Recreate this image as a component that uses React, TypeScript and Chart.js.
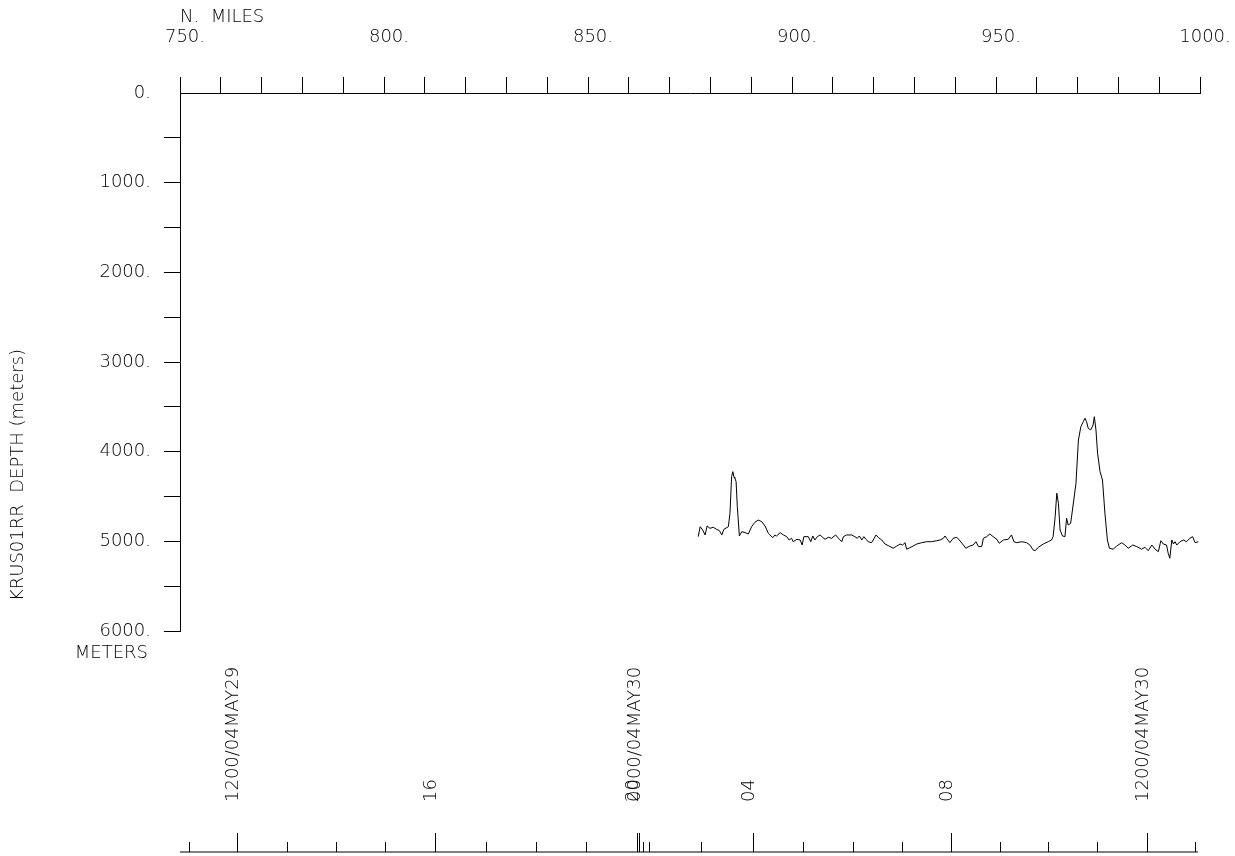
import React, { useEffect, useRef } from 'react';
import { Chart, registerables } from 'chart.js';

Chart.register(...registerables);

// Distance along track (nautical miles) and bottom depth (meters)
const MILES = [
  877.0, 877.5, 878.1, 878.7, 879.2, 879.9, 880.7, 881.5, 882.2, 882.8,
  883.3, 884.4, 884.8, 885.2, 885.5, 885.8, 886.0, 886.3, 886.6, 887.1,
  887.7, 888.5, 889.3, 890.1, 890.9, 891.7, 892.6, 893.4, 894.2, 894.6,
  895.3, 895.8, 896.2, 897.1, 897.9, 898.7, 899.3, 899.9, 900.3, 901.2,
  902.0, 902.5, 902.9, 904.0, 904.6, 905.1, 905.6, 906.2, 906.9, 907.5,
  908.1, 908.9, 909.7, 910.7, 911.4, 912.2, 912.6, 913.4, 914.6, 915.4,
  916.0, 916.5, 917.1, 917.6, 918.1, 918.7, 919.5, 919.9, 920.6, 921.2,
  922.0, 922.8, 923.6, 924.8, 925.7, 926.5, 927.1, 927.7, 928.1, 928.9,
  929.7, 930.6, 931.8, 933.0, 934.2, 935.5, 936.3, 937.1, 937.5, 937.9,
  938.7, 939.5, 940.4, 941.0, 942.0, 942.6, 943.6, 944.4, 945.1, 945.7,
  946.5, 946.9, 947.7, 948.5, 949.3, 950.2, 950.8, 951.8, 953.0, 953.8,
  954.4, 955.1, 956.3, 957.5, 958.3, 959.1, 959.6, 960.4, 961.6, 962.8,
  963.6, 964.0, 964.5, 964.9, 965.3, 965.7, 966.3, 966.9, 967.3, 967.7,
  968.3, 968.9, 969.6, 970.2, 970.8, 971.4, 971.8, 972.2, 972.6, 973.2,
  973.8, 974.1, 974.5, 974.9, 975.5, 976.1, 976.7, 977.3, 977.8, 978.7,
  979.6, 980.8, 981.6, 982.4, 983.5, 984.5, 985.7, 986.5, 987.3, 988.2,
  989.0, 989.8, 990.4, 991.0, 991.8, 992.2, 992.6, 993.1, 993.5, 993.9,
  994.3, 995.1, 995.9, 996.7, 997.5, 998.2, 998.8, 999.6,
];

const DEPTHS = [
  4948, 4837, 4873, 4929, 4829, 4855, 4843, 4866, 4881, 4929,
  4866, 4837, 4687, 4279, 4223, 4286, 4297, 4335, 4614, 4940,
  4892, 4903, 4918, 4837, 4788, 4762, 4781, 4829, 4910, 4929,
  4959, 4929, 4940, 4903, 4929, 4948, 4985, 4966, 5004, 4977,
  4985, 5041, 4948, 4948, 5004, 4940, 4985, 4948, 4929, 4955,
  4977, 4955, 4966, 4929, 4966, 5004, 4948, 4929, 4929, 4948,
  4966, 4940, 4985, 4948, 4977, 5004, 5015, 4985, 4929, 4959,
  4985, 5030, 5048, 5077, 5052, 5030, 5041, 5015, 5088, 5071,
  5052, 5030, 5015, 5004, 5004, 4993, 4985, 4966, 4940, 4966,
  5015, 4966, 4955, 4985, 5041, 5077, 5052, 5041, 5004, 5059,
  5059, 4966, 4948, 4918, 4948, 4977, 5022, 4985, 4977, 4929,
  5004, 5015, 5004, 5015, 5041, 5096, 5104, 5066, 5030, 5004,
  4985, 4948, 4725, 4464, 4576, 4873, 4940, 4948, 4743, 4818,
  4799, 4595, 4353, 3870, 3721, 3666, 3628, 3666, 3739, 3758,
  3702, 3610, 3758, 4018, 4223, 4316, 4687, 4985, 5077, 5088,
  5052, 5015, 5041, 5077, 5041, 5059, 5088, 5066, 5104, 5041,
  5088, 5115, 4993, 5030, 5041, 5133, 5189, 4985, 5030, 5004,
  5041, 5004, 4985, 5004, 4966, 4948, 5015, 5004,
];

const X_MIN = 750;
const X_MAX = 1000;
const X_MINOR_STEP = 10;
const X_LABEL_STEP = 50;
const Y_MIN = 0;
const Y_MAX = 6000;
const Y_MINOR_STEP = 500;
const Y_LABEL_STEP = 1000;

const X_TITLE = 'N.  MILES';
const Y_TITLE = 'KRUS01RR  DEPTH (meters)';
const Y_UNIT = 'METERS';

// Hourly time ticks along the track, placed at the distance (miles) reached at that hour
const TIME_TICK_MILES = [
  752.1, 764.0, 776.2, 788.2, 800.3, 812.5, 824.9, 837.3, 849.5, 861.9,
  862.4, 863.5, 865.0, 877.6, 890.4, 902.7, 915.0, 926.9, 939.0, 951.0,
  962.8, 974.7, 986.9, 998.8,
];
const TIME_TICK_LABELS = [
  '', '1200/04MAY29', '', '', '', '16', '', '', '', '20',
  '0000/04MAY30', '', '', '', '04', '', '', '', '08', '',
  '', '', '1200/04MAY30', '',
];

const FONT_FAMILY = '"DejaVu Sans ExtraLight", "DejaVu Sans", "Liberation Sans", sans-serif';
const FONT_SIZE = 18;
const FONT_WEIGHT = '200';

const extrasPlugin = {
  id: 'extras',
  afterDraw(chart: any) {
    const ctx = chart.ctx as CanvasRenderingContext2D;
    const xs = chart.scales.x;
    const area = chart.chartArea;
    ctx.save();
    ctx.fillStyle = '#000';
    ctx.strokeStyle = '#000';
    ctx.lineWidth = 1;
    ctx.font = `${FONT_WEIGHT} ${FONT_SIZE}px ${FONT_FAMILY}`;

    // unit label under lowest depth tick
    ctx.textAlign = 'right';
    ctx.textBaseline = 'alphabetic';
    ctx.fillText(Y_UNIT, area.left - 32, area.bottom + 27);

    // y axis title
    ctx.save();
    ctx.translate(area.left - 157, area.top + 382);
    ctx.rotate(-Math.PI / 2);
    ctx.textAlign = 'center';
    ctx.fillText(Y_TITLE, 0, 0);
    ctx.restore();

    // bottom time axis
    const baseY = area.bottom + 221;
    ctx.beginPath();
    ctx.moveTo(xs.getPixelForValue(X_MIN), baseY);
    ctx.lineTo(xs.getPixelForValue(X_MAX) - 2, baseY);
    ctx.stroke();

    TIME_TICK_MILES.forEach((m, i) => {
      const px = xs.getPixelForValue(m);
      const label = TIME_TICK_LABELS[i];
      const len = label ? 19 : 10;
      const x = Math.round(px) + 0.5;
      ctx.beginPath();
      ctx.moveTo(x, baseY);
      ctx.lineTo(x, baseY - len);
      ctx.stroke();
      if (label) {
        ctx.save();
        ctx.translate(px + 1, baseY - 50);
        ctx.rotate(-Math.PI / 2);
        ctx.textAlign = 'left';
        ctx.textBaseline = 'alphabetic';
        ctx.fillText(label, 0, 0);
        ctx.restore();
      }
    });
    ctx.restore();
  },
};

export default function App() {
  const ref = useRef<HTMLCanvasElement | null>(null);

  useEffect(() => {
    if (!ref.current) return;
    Chart.defaults.font.family = FONT_FAMILY;
    Chart.defaults.font.size = FONT_SIZE;
    Chart.defaults.color = '#000';

    const points = MILES.map((m, i) => ({ x: m, y: DEPTHS[i] }));
    const font = { size: FONT_SIZE, family: FONT_FAMILY, weight: FONT_WEIGHT as any };

    const chart = new Chart(ref.current, {
      type: 'line',
      data: {
        datasets: [
          {
            data: points,
            borderColor: '#000',
            borderWidth: 1,
            pointRadius: 0,
            tension: 0,
            fill: false,
          },
        ],
      },
      options: {
        animation: false,
        responsive: false,
        devicePixelRatio: 1,
        layout: { padding: { left: 0, top: 0, right: 35, bottom: 225 } },
        plugins: {
          legend: { display: false },
          tooltip: { enabled: false },
        },
        scales: {
          x: {
            type: 'linear',
            position: 'top',
            min: X_MIN,
            max: X_MAX,
            afterFit: (s: any) => {
              s.height = 93;
              s.paddingLeft = 0;
              s.paddingRight = 0;
            },
            afterBuildTicks: (s: any) => {
              const t = [];
              for (let v = X_MIN; v <= X_MAX; v += X_MINOR_STEP) t.push({ value: v });
              s.ticks = t;
            },
            ticks: {
              autoSkip: false,
              maxRotation: 0,
              padding: 29,
              labelOffset: 5,
              color: '#000',
              font,
              callback: (v: any) => (Number(v) % X_LABEL_STEP === 0 ? `${v}.` : ''),
            },
            grid: {
              drawOnChartArea: false,
              drawTicks: true,
              tickLength: 16,
              tickColor: '#000',
              tickWidth: 1,
            },
            border: { display: true, color: '#000', width: 1 },
            title: {
              display: true,
              text: X_TITLE,
              align: 'start',
              color: '#000',
              font,
              padding: { top: 7, bottom: 0 },
            },
          },
          y: {
            type: 'linear',
            position: 'left',
            reverse: true,
            min: Y_MIN,
            max: Y_MAX,
            afterFit: (s: any) => {
              s.width = 180;
              s.paddingTop = 0;
              s.paddingBottom = 0;
            },
            afterBuildTicks: (s: any) => {
              const t = [];
              for (let v = Y_MIN; v <= Y_MAX; v += Y_MINOR_STEP) t.push({ value: v });
              s.ticks = t;
            },
            ticks: {
              autoSkip: false,
              padding: 13,
              color: '#000',
              font,
              callback: (v: any) => (Number(v) % Y_LABEL_STEP === 0 ? `${v}.` : ''),
            },
            grid: {
              drawOnChartArea: false,
              drawTicks: true,
              tickLength: 16,
              tickWidth: 1,
              tickColor: (c: any) => (c.tick && c.tick.value === 0 ? 'rgba(0,0,0,0)' : '#000'),
            },
            border: { display: true, color: '#000', width: 1 },
          },
        },
      },
      plugins: [extrasPlugin],
    });

    return () => chart.destroy();
  }, []);

  return (
    <div
      style={{
        position: 'fixed',
        left: 0,
        top: 0,
        width: 1235,
        height: 856,
        background: '#fff',
      }}
    >
      <canvas ref={ref} width={1235} height={856} style={{ display: 'block' }} />
    </div>
  );
}
